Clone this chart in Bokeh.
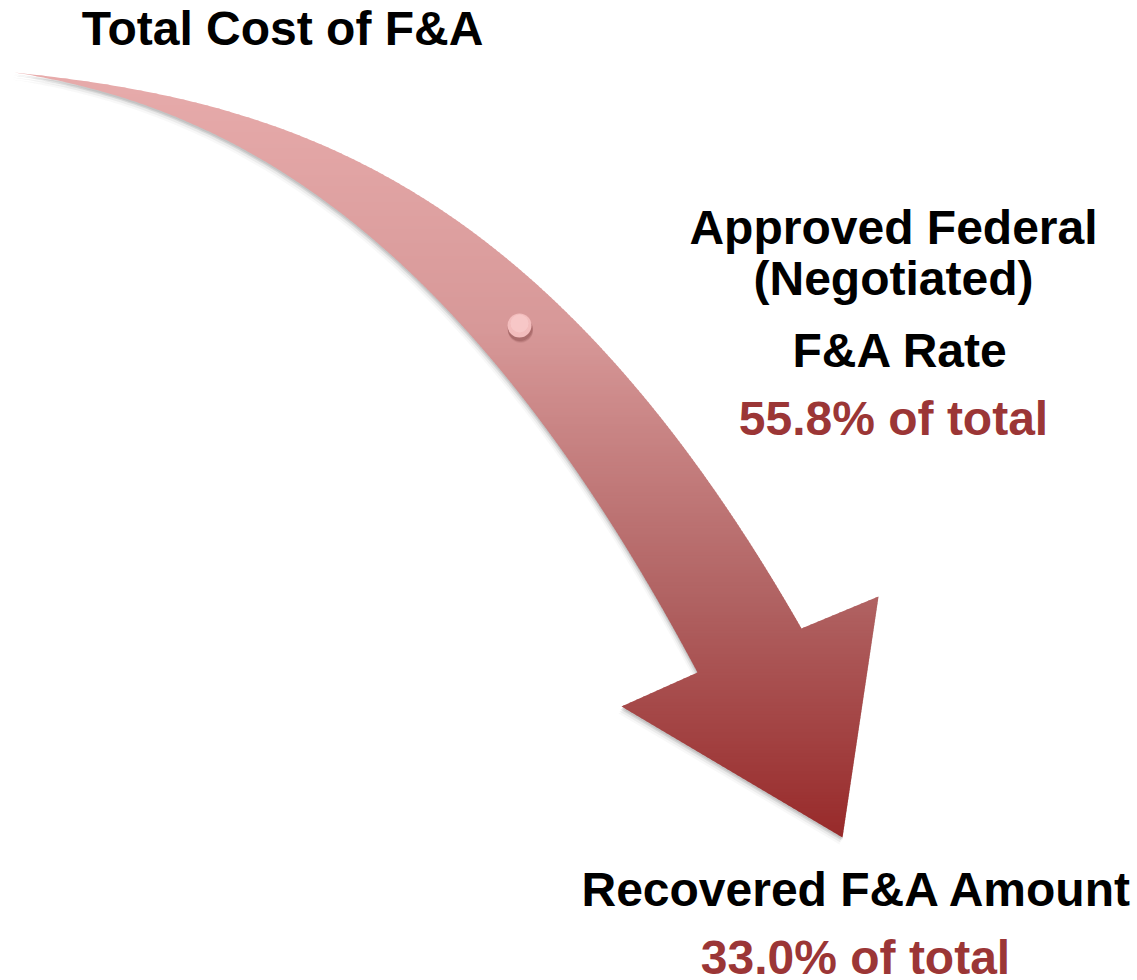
import numpy as np
from bokeh.plotting import figure
from bokeh.models import Range1d
from bokeh.core.properties import value
from bokeh.embed import file_html
from bokeh.resources import INLINE

# ---- content ----
title_label = "Total Cost of F&A"
rate_lines = ["Approved Federal", "(Negotiated)", "F&A Rate"]
rate_value = "55.8% of total"
recovered_label = "Recovered F&A Amount"
recovered_value = "33.0% of total"

# ---- arrow outline (page pixel coordinates) ----
upper_edge_x = [14, 100, 200, 300, 400, 480, 547, 600, 653, 700, 737, 770, 801]
upper_edge_y = [72, 79, 102, 136, 184, 238, 300, 350, 405, 465, 517, 573, 628]
lower_edge_x = [14, 100, 200, 300, 380, 437, 483, 523, 570, 635, 697]
lower_edge_y = [72, 95, 130, 184, 240, 292, 348, 400, 470, 567, 672]
head_x = [878, 842, 621]   # right barb, tip, left barb
head_y = [596, 837, 706]

dot_x, dot_y, dot_r = 519, 325, 12

grad_stop_y = [72, 330, 600, 836]
grad_stop_rgb = [(0xE7, 0xAB, 0xAB), (0xD7, 0x98, 0x98), (0xB0, 0x62, 0x62), (0x98, 0x2A, 0x2A)]

RED = "#9b3636"
FONT = "Liberation Sans"
FSIZE = "48px"
TEXT_SHIFT = 17   # svg text sits this far below its anchor

W, H = 1137, 980


def smooth_edge(xs, ys, n=120):
    """Smooth edge through the read-off points (cubic least squares, ends pinned)."""
    xs = np.asarray(xs, float)
    ys = np.asarray(ys, float)
    w = np.ones_like(xs)
    w[0] = w[-1] = 20.0
    c = np.polyfit(xs, ys, 3, w=w)
    gx = np.linspace(xs[0], xs[-1], n)
    gy = np.polyval(c, gx)
    gy[0], gy[-1] = ys[0], ys[-1]
    return list(zip(gx, gy))


upper = smooth_edge(upper_edge_x, upper_edge_y)
lower = smooth_edge(lower_edge_x, lower_edge_y)
poly = upper + list(zip(head_x, head_y)) + lower[::-1][:-1]


def clip_half(poly, inside, inter):
    out = []
    n = len(poly)
    for i in range(n):
        cur = poly[i]
        prev = poly[i - 1]
        cin, pin = inside(cur), inside(prev)
        if cin:
            if not pin:
                out.append(inter(prev, cur))
            out.append(cur)
        elif pin:
            out.append(inter(prev, cur))
    return out


def y_inter(yc):
    def f(a, b):
        t = (yc - a[1]) / (b[1] - a[1])
        return (a[0] + t * (b[0] - a[0]), yc)
    return f


def clip_band(poly, y0, y1):
    p = clip_half(poly, lambda q: q[1] >= y0, y_inter(y0))
    if not p:
        return p
    return clip_half(p, lambda q: q[1] <= y1, y_inter(y1))


def grad_color(y):
    r = np.interp(y, grad_stop_y, [c[0] for c in grad_stop_rgb])
    g = np.interp(y, grad_stop_y, [c[1] for c in grad_stop_rgb])
    b = np.interp(y, grad_stop_y, [c[2] for c in grad_stop_rgb])
    return "#%02x%02x%02x" % (int(round(r)), int(round(g)), int(round(b)))


p = figure(width=W, height=H, output_backend="svg", toolbar_location=None,
           x_range=Range1d(0, W), y_range=Range1d(H, 0),
           min_border=0, background_fill_color="white", border_fill_color="white")
p.axis.visible = False
p.grid.visible = False
p.outline_line_color = None

px = [q[0] for q in poly]
py = [q[1] for q in poly]

# soft shadow
for dx, dy, a in [(-3, 7, 0.04), (-2, 5, 0.07), (-1, 3, 0.12), (0, 2, 0.12)]:
    p.patch([x + dx for x in px], [y + dy for y in py], fill_color="#404040",
            fill_alpha=a, line_color=None)

# gradient body in horizontal bands (slightly overlapping, no stroke)
band_xs, band_ys, band_c = [], [], []
step = 3
ymin, ymax = min(py), max(py)
yy = ymin
while yy < ymax:
    bp = clip_band(poly, yy, yy + step + 0.8)
    if len(bp) >= 3:
        band_xs.append([q[0] for q in bp])
        band_ys.append([q[1] for q in bp])
        band_c.append(grad_color(yy + step / 2))
    yy += step
p.patches(band_xs, band_ys, fill_color=band_c, line_color=None)

# dot with shadow
for dx, dy, a in [(1, 5, 0.10), (1, 4, 0.20), (0.5, 3, 0.25)]:
    p.circle(x=[dot_x + dx], y=[dot_y + dy], radius=dot_r + 0.5, fill_color="#7a3a3a",
             fill_alpha=a, line_color=None)
p.circle(x=[dot_x], y=[dot_y], radius=dot_r, fill_color="#f3bdbd", line_color=None)
p.circle(x=[dot_x], y=[dot_y - 2], radius=dot_r - 3, fill_color="#f8cccc", fill_alpha=0.7,
         line_color=None)

# texts (baselines in page pixels)
txt_x = [282, 893, 893, 900, 893, 857, 855]
txt_base = [45, 244, 295, 367, 435, 906, 974]
txt_y = [b - TEXT_SHIFT for b in txt_base]
txt = [title_label] + rate_lines + [rate_value, recovered_label, recovered_value]
txt_col = ["#000000", "#000000", "#000000", "#000000", RED, "#000000", RED]
p.text(x=txt_x, y=txt_y, text=txt, text_color=txt_col, text_align="center",
       text_baseline="alphabetic", text_font=value(FONT), text_font_style="bold",
       text_font_size=FSIZE)

open("out.html", "w").write(file_html(p, INLINE))
